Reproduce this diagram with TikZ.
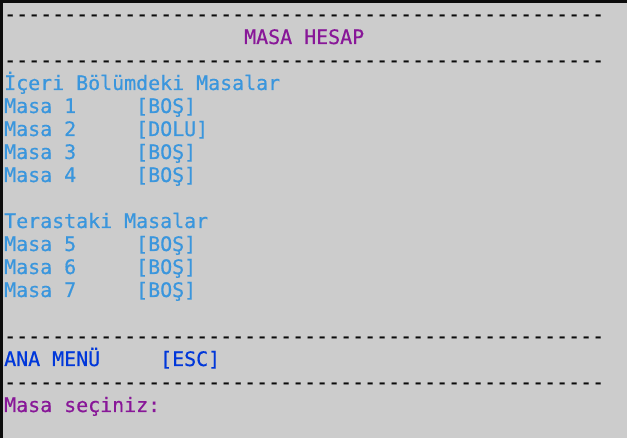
\documentclass[tikz,border=0pt]{standalone}
\usepackage{fontspec}
\setmonofont{DejaVu Sans Mono}[FakeBold=0.6]
\definecolor{bg}{HTML}{CCCCCC}
\definecolor{frame}{HTML}{0C0C0C}
\definecolor{termcyan}{HTML}{3A96DD}
\definecolor{termpurple}{HTML}{881798}
\definecolor{termblue}{HTML}{0037DA}
\tikzset{
  txt/.style={inner sep=0pt, anchor=base west, font=\ttfamily\fontsize{19.93}{23}\selectfont},
  cyantxt/.style={txt, text=termcyan},
  purpletxt/.style={txt, text=termpurple},
  bluetxt/.style={txt, text=termblue},
  dashtxt/.style={txt, text=frame},
}
\newcommand{\dashrow}{--------------------------------------------------}
\begin{document}
\begin{tikzpicture}[x=1pt,y=-1pt]
\useasboundingbox (0,0) rectangle (627,438);
\fill[bg] (0,0) rectangle (627,438);
\fill[frame] (0,0) rectangle (627,3);
\fill[frame] (0,0) rectangle (3,438);
% rows: baseline = 21 + 23*k
\node[dashtxt] (d0) at (4,21) {\dashrow};
\node[purpletxt] (title) at (244,44) {MASA HESAP};
\node[dashtxt] (d1) at (4,67) {\dashrow};
\node[cyantxt] (ic) at (4,90) {İçeri Bölümdeki Masalar};
\node[cyantxt] (m1) at (4,113) {Masa 1};
\node[cyantxt] (s1) at (136,113) {[BOŞ]};
\node[cyantxt] (m2) at (4,136) {Masa 2};
\node[cyantxt] (s2) at (136,136) {[DOLU]};
\node[cyantxt] (m3) at (4,159) {Masa 3};
\node[cyantxt] (s3) at (136,159) {[BOŞ]};
\node[cyantxt] (m4) at (4,182) {Masa 4};
\node[cyantxt] (s4) at (136,182) {[BOŞ]};
\node[cyantxt] (te) at (4,228) {Terastaki Masalar};
\node[cyantxt] (m5) at (4,251) {Masa 5};
\node[cyantxt] (s5) at (136,251) {[BOŞ]};
\node[cyantxt] (m6) at (4,274) {Masa 6};
\node[cyantxt] (s6) at (136,274) {[BOŞ]};
\node[cyantxt] (m7) at (4,297) {Masa 7};
\node[cyantxt] (s7) at (136,297) {[BOŞ]};
\node[dashtxt] (d2) at (4,343) {\dashrow};
\node[bluetxt] (menu) at (4,366) {ANA MENÜ};
\node[bluetxt] (esc) at (160,366) {[ESC]};
\node[dashtxt] (d3) at (4,389) {\dashrow};
\node[purpletxt] (prompt) at (4,412) {Masa seçiniz:};
\end{tikzpicture}
\end{document}
